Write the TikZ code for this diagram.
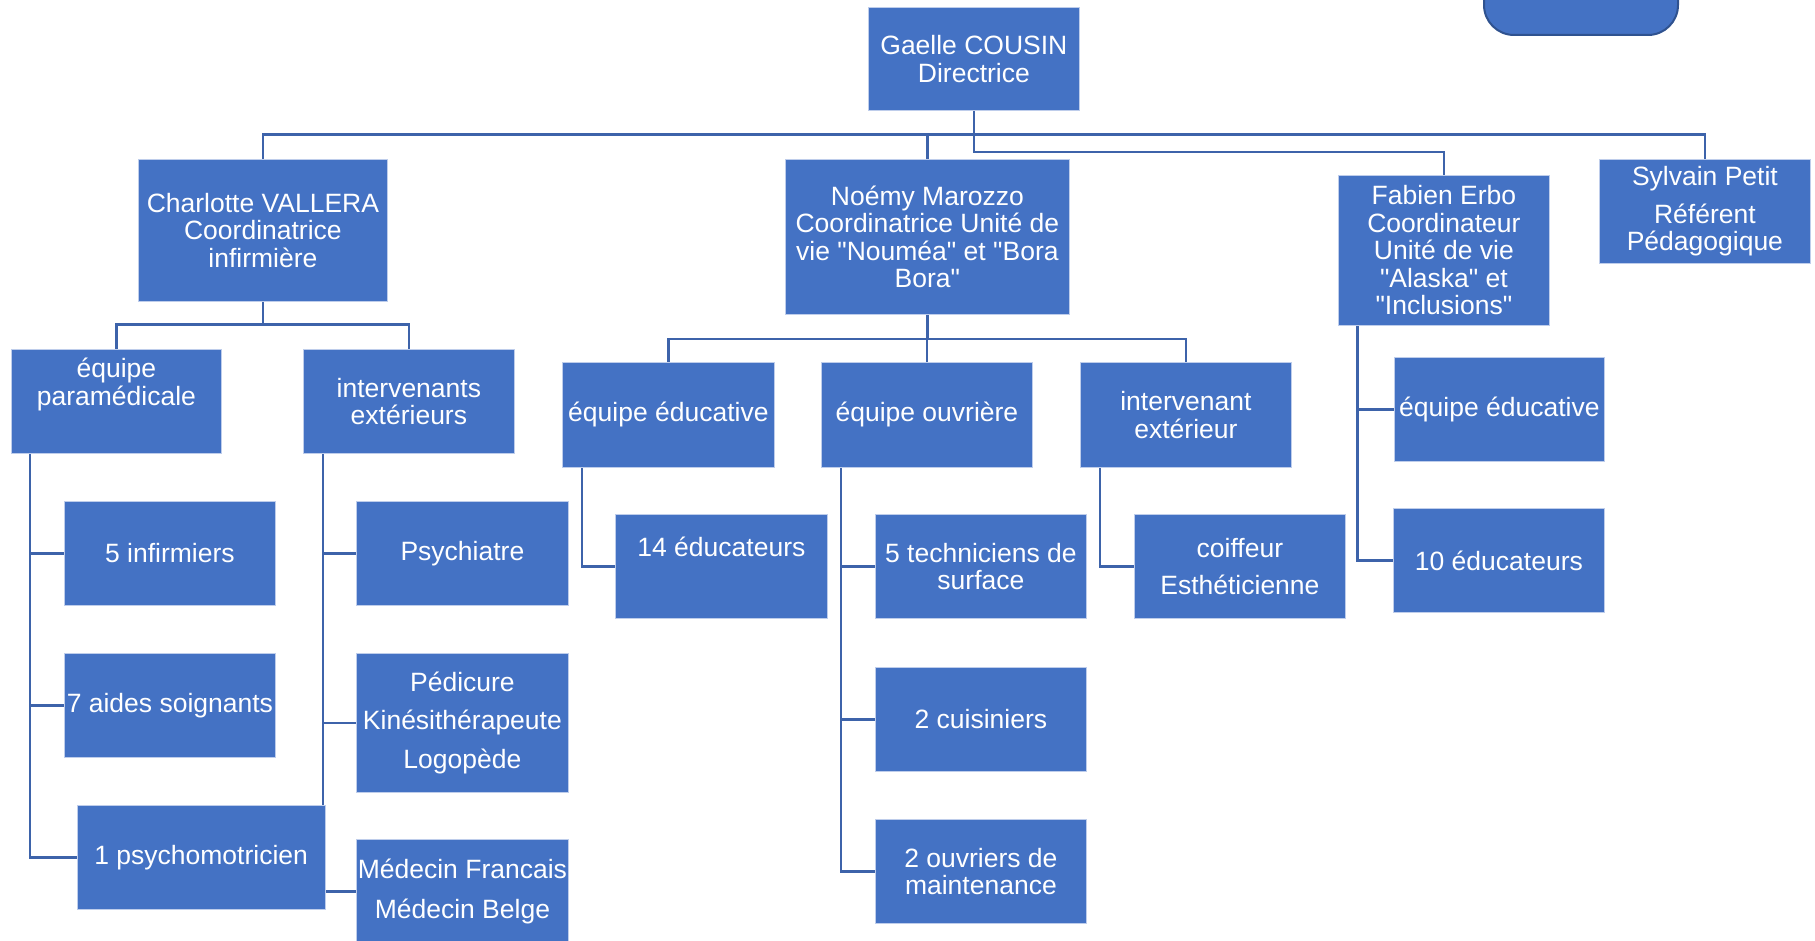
\documentclass[tikz,border=0pt]{standalone}
\usepackage{fontspec}
\setmainfont{Liberation Sans}[Ligatures=TeXOff]
\usetikzlibrary{backgrounds}
\definecolor{boxblue}{HTML}{4472C4}
\definecolor{boxedge}{RGB}{190,205,235}
\definecolor{linkblue}{RGB}{61,99,170}
\definecolor{darkedge}{HTML}{2F528F}
\tikzset{
  orgbox/.style={fill=boxblue, draw=boxedge, line width=0.8pt, inner sep=0pt,
    anchor=north west, align=center, text=white,
    font=\fontsize{26.5}{27.5}\selectfont},
  link/.style={draw=linkblue, line width=2.6pt}
}
\newcommand{\bx}[6]{\node[orgbox, minimum width={#4pt-#2pt}, minimum height={#5pt-#3pt}] (#1) at (#2,#3) {#6};}
\begin{document}
\begin{tikzpicture}[x=1pt,y=-1pt]
\useasboundingbox (0,0) rectangle (1815,941);
\begin{scope}
\clip (0,0) rectangle (1815,941);
\node[fill=boxblue, draw=darkedge, line width=2pt, rounded corners=30pt, anchor=south west,
  minimum width=194pt, minimum height=90pt, inner sep=0pt] (top) at (1483,36) {};
% top level
\bx{g}{868}{7}{1079}{110}{Gaelle COUSIN\\Directrice}
\bx{c}{138}{159}{387}{301}{Charlotte VALLERA\\Coordinatrice\\infirmière}
\bx{n}{785}{159}{1069}{314}{Noémy Marozzo\\Coordinatrice Unité de\\vie "Nouméa" et "Bora\\Bora"}
\bx{f}{1338}{175}{1549}{325}{Fabien Erbo\\Coordinateur\\Unité de vie\\"Alaska" et\\"Inclusions"}
\bx{s}{1599}{159}{1810}{263}{Sylvain Petit\\[10pt]Référent\\Pédagogique}
% second level
\bx{ep}{11}{349}{221}{453}{équipe\\paramédicale\\[12pt]\mbox{}}
\bx{ie}{303}{349}{514}{453}{intervenants\\extérieurs}
\bx{ee}{562}{362}{774}{467}{équipe éducative}
\bx{eo}{821}{362}{1032}{467}{équipe ouvrière}
\bx{ix}{1080}{362}{1291}{467}{intervenant\\extérieur}
\bx{fe}{1394}{357}{1604}{461}{équipe éducative}
% third level
\bx{inf}{64}{501}{275}{605}{5 infirmiers}
\bx{ais}{64}{653}{275}{757}{7 aides soignants}
\bx{psm}{77}{805}{324.5}{909}{1 psychomotricien}
\bx{psy}{356}{501}{568}{605}{Psychiatre}
\bx{ped}{356}{653}{568}{792}{Pédicure\\[11pt]Kinésithérapeute\\[11pt]Logopède}
\bx{med}{356}{839}{568}{943}{Médecin Francais\\[12pt]Médecin Belge}
\bx{e14}{615}{514}{827}{618}{14 éducateurs\\[12pt]\mbox{}}
\bx{tec}{875}{514}{1086}{618}{5 techniciens de\\surface}
\bx{cui}{875}{667}{1086}{771}{2 cuisiniers}
\bx{ouv}{875}{819}{1086}{923}{2 ouvriers de\\maintenance}
\bx{coi}{1134}{514}{1345}{618}{coiffeur\\[9pt]Esthéticienne}
\bx{e10}{1393}{508}{1604}{612}{10 éducateurs}
\end{scope}
\begin{scope}[on background layer]
% director to coordinators
\draw[link] (g.south) -- ++(0,24) -| (c.north);
\draw[link] (g.south) -- ++(0,24) -| (n.north);
\draw[link] (g.south) -- ++(0,24) -| (s.north);
\draw[link] (g.south) |- ([yshift=23pt]f.north) -- (f.north);
% Charlotte
\draw[link] (c.south) -- ++(0,23) -| (ep.north);
\draw[link] (c.south) -- ++(0,23) -| (ie.north);
% Noemy
\draw[link] (n.south) -- ++(0,24) -| (ee.north);
\draw[link] (n.south) -- ++(0,24) -| (eo.north);
\draw[link] (n.south) -- ++(0,24) -| (ix.north);
% stems
\draw[link] ([xshift=19pt]ep.south west) |- (inf.west);
\draw[link] ([xshift=19pt]ep.south west) |- (ais.west);
\draw[link] ([xshift=19pt]ep.south west) |- (psm.west);
\draw[link] ([xshift=20pt]ie.south west) |- (psy.west);
\draw[link] ([xshift=20pt]ie.south west) |- (ped.west);
\draw[link] ([xshift=20pt]ie.south west) |- (med.west);
\draw[link] ([xshift=20pt]ee.south west) |- (e14.west);
\draw[link] ([xshift=20pt]eo.south west) |- (tec.west);
\draw[link] ([xshift=20pt]eo.south west) |- (cui.west);
\draw[link] ([xshift=20pt]eo.south west) |- (ouv.west);
\draw[link] ([xshift=20pt]ix.south west) |- (coi.west);
\draw[link] ([xshift=19.5pt]f.south west) |- (fe.west);
\draw[link] ([xshift=19.5pt]f.south west) |- (e10.west);
\end{scope}
\end{tikzpicture}
\end{document}
